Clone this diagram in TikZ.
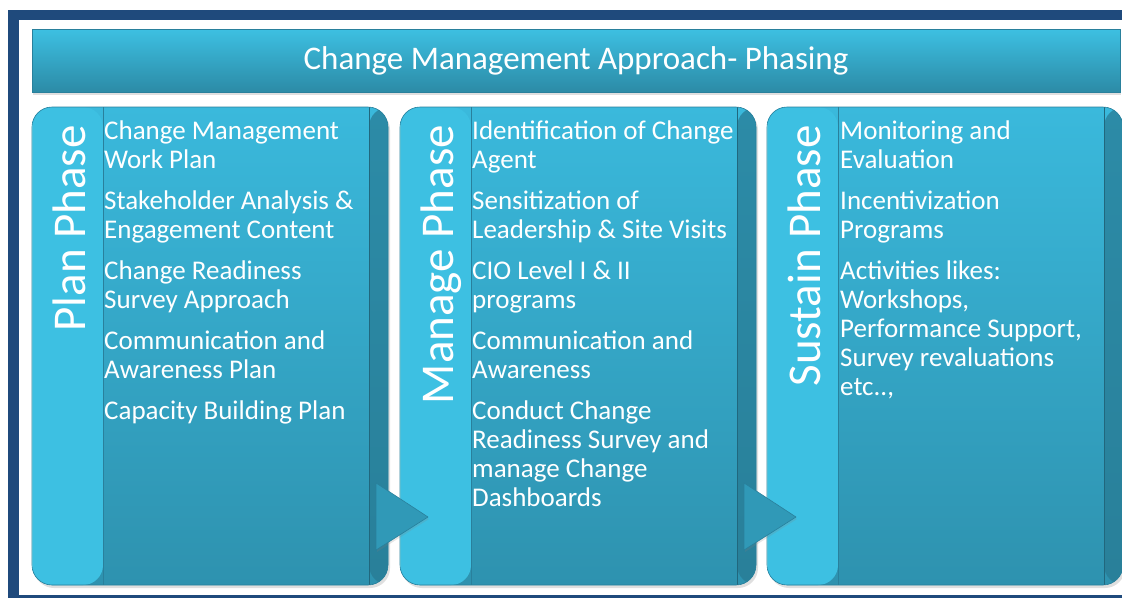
\documentclass[tikz,border=0pt]{standalone}
\usepackage{fontspec}
\setmainfont{Carlito}
\usetikzlibrary{calc,shadows}
\definecolor{framenavy}{HTML}{1F4A7C}
\definecolor{cyanlight}{HTML}{3DC0E2}
\definecolor{cyantop}{HTML}{3AB9DC}
\definecolor{cyandark}{HTML}{2E92AF}
\definecolor{cyanedge}{HTML}{29809C}
\definecolor{cyanstrip}{HTML}{2C8BA7}
\definecolor{cyanshine}{HTML}{6FE0F5}

\begin{document}
\begin{tikzpicture}[x=1pt,y=-1pt,
  titlebar/.style={minimum width=1088pt,minimum height=63pt,outer sep=0pt,
    top color=cyanlight,bottom color=cyandark!95!black,draw=cyanedge,line width=0.6pt,
    text=white,font=\fontsize{33}{36}\selectfont,
    drop shadow={shadow xshift=1pt,shadow yshift=-3pt,opacity=0.25},
    path picture={\draw[cyanshine,line width=2pt]
      (path picture bounding box.north west) -- (path picture bounding box.north east);}},
  panel/.style={rounded corners=20pt,minimum width=356pt,minimum height=478pt,
    anchor=north west,outer sep=0pt,inner sep=0pt,
    top color=cyantop,bottom color=cyandark,draw=cyanedge,line width=0.6pt,
    drop shadow={shadow xshift=2pt,shadow yshift=-3pt,opacity=0.25},
    path picture={
      \fill[cyanlight] (path picture bounding box.north west)
        rectangle ([xshift=71pt]path picture bounding box.south west);
      \shade[top color=cyanstrip,bottom color=cyanstrip!92!black]
        ([xshift=-19pt]path picture bounding box.north east)
        rectangle (path picture bounding box.south east);
      \draw[cyanedge,line width=0.8pt]
        ([xshift=71pt]path picture bounding box.north west)
        -- ([xshift=71pt]path picture bounding box.south west);
      \draw[cyanedge!80!black,line width=0.8pt]
        ([xshift=-19pt]path picture bounding box.north east)
        -- ([xshift=-19pt]path picture bounding box.south east);
      \draw[cyanshine,line width=2pt]
        (path picture bounding box.north west)
        -- (path picture bounding box.south west);}},
  phaselabel/.style={rotate=90,anchor=base east,inner sep=0pt,text=white,
    font=\fontsize{47}{50}\selectfont},
  items/.style={anchor=north west,align=left,inner sep=0pt,text=white,
    font=\fontsize{27}{29}\selectfont},
  steparrow/.style={fill=cyandark!85!cyanlight,draw=cyanedge,line width=0.6pt,
    line join=round,drop shadow={shadow xshift=1pt,shadow yshift=-2pt,opacity=0.2}},
]
  \useasboundingbox (0,0) rectangle (1122,598);
  \fill[white] (0,0) rectangle (1122,598);
  % frame
  \fill[framenavy] (8,10) rectangle (1122,598);
  \fill[white] (19,20) rectangle (1122,595);

  \node[titlebar] (title) at (576,60.5) {\raisebox{2pt}{Change Management Approach- Phasing}};

  % phases
  \node[panel] (plan) at (32,107) {};
  \node[panel] (manage) at (400,107) {};
  \node[panel] (sustain) at (767,107) {};

  \fill[steparrow] ($(plan.south east)+(-12,-102)$) -- ($(manage.south west)+(28,-68)$)
    -- ($(plan.south east)+(-12,-35)$) -- cycle;
  \fill[steparrow] ($(manage.south east)+(-12,-102)$) -- ($(sustain.south west)+(29,-68)$)
    -- ($(manage.south east)+(-12,-35)$) -- cycle;

  \node[phaselabel] (planlabel) at ($(plan.north west)+(53,18)$) {Plan Phase};
  \node[phaselabel] (managelabel) at ($(manage.north west)+(53,18)$) {Manage Phase};
  \node[phaselabel] (sustainlabel) at ($(sustain.north west)+(53,18)$) {Sustain Phase};

  \node[items] (plantext) at ($(plan.north west)+(72,14)$)
    {Change Management\\Work Plan\\[12pt]
     Stakeholder Analysis \&\\Engagement Content\\[12pt]
     Change Readiness\\Survey Approach\\[12pt]
     Communication and\\Awareness Plan\\[12pt]
     Capacity Building Plan};
  \node[items] (managetext) at ($(manage.north west)+(72,14)$)
    {Identification of Change\\Agent\\[12pt]
     Sensitization of\\Leadership \& Site Visits\\[12pt]
     CIO Level I \& II\\programs\\[12pt]
     Communication and\\Awareness\\[12pt]
     Conduct Change\\Readiness Survey and\\manage Change\\Dashboards};
  \node[items] (sustaintext) at ($(sustain.north west)+(73,14)$)
    {Monitoring and\\Evaluation\\[12pt]
     Incentivization\\Programs\\[12pt]
     Activities likes:\\Workshops,\\Performance Support,\\Survey revaluations\\etc..,};
\end{tikzpicture}
\end{document}
